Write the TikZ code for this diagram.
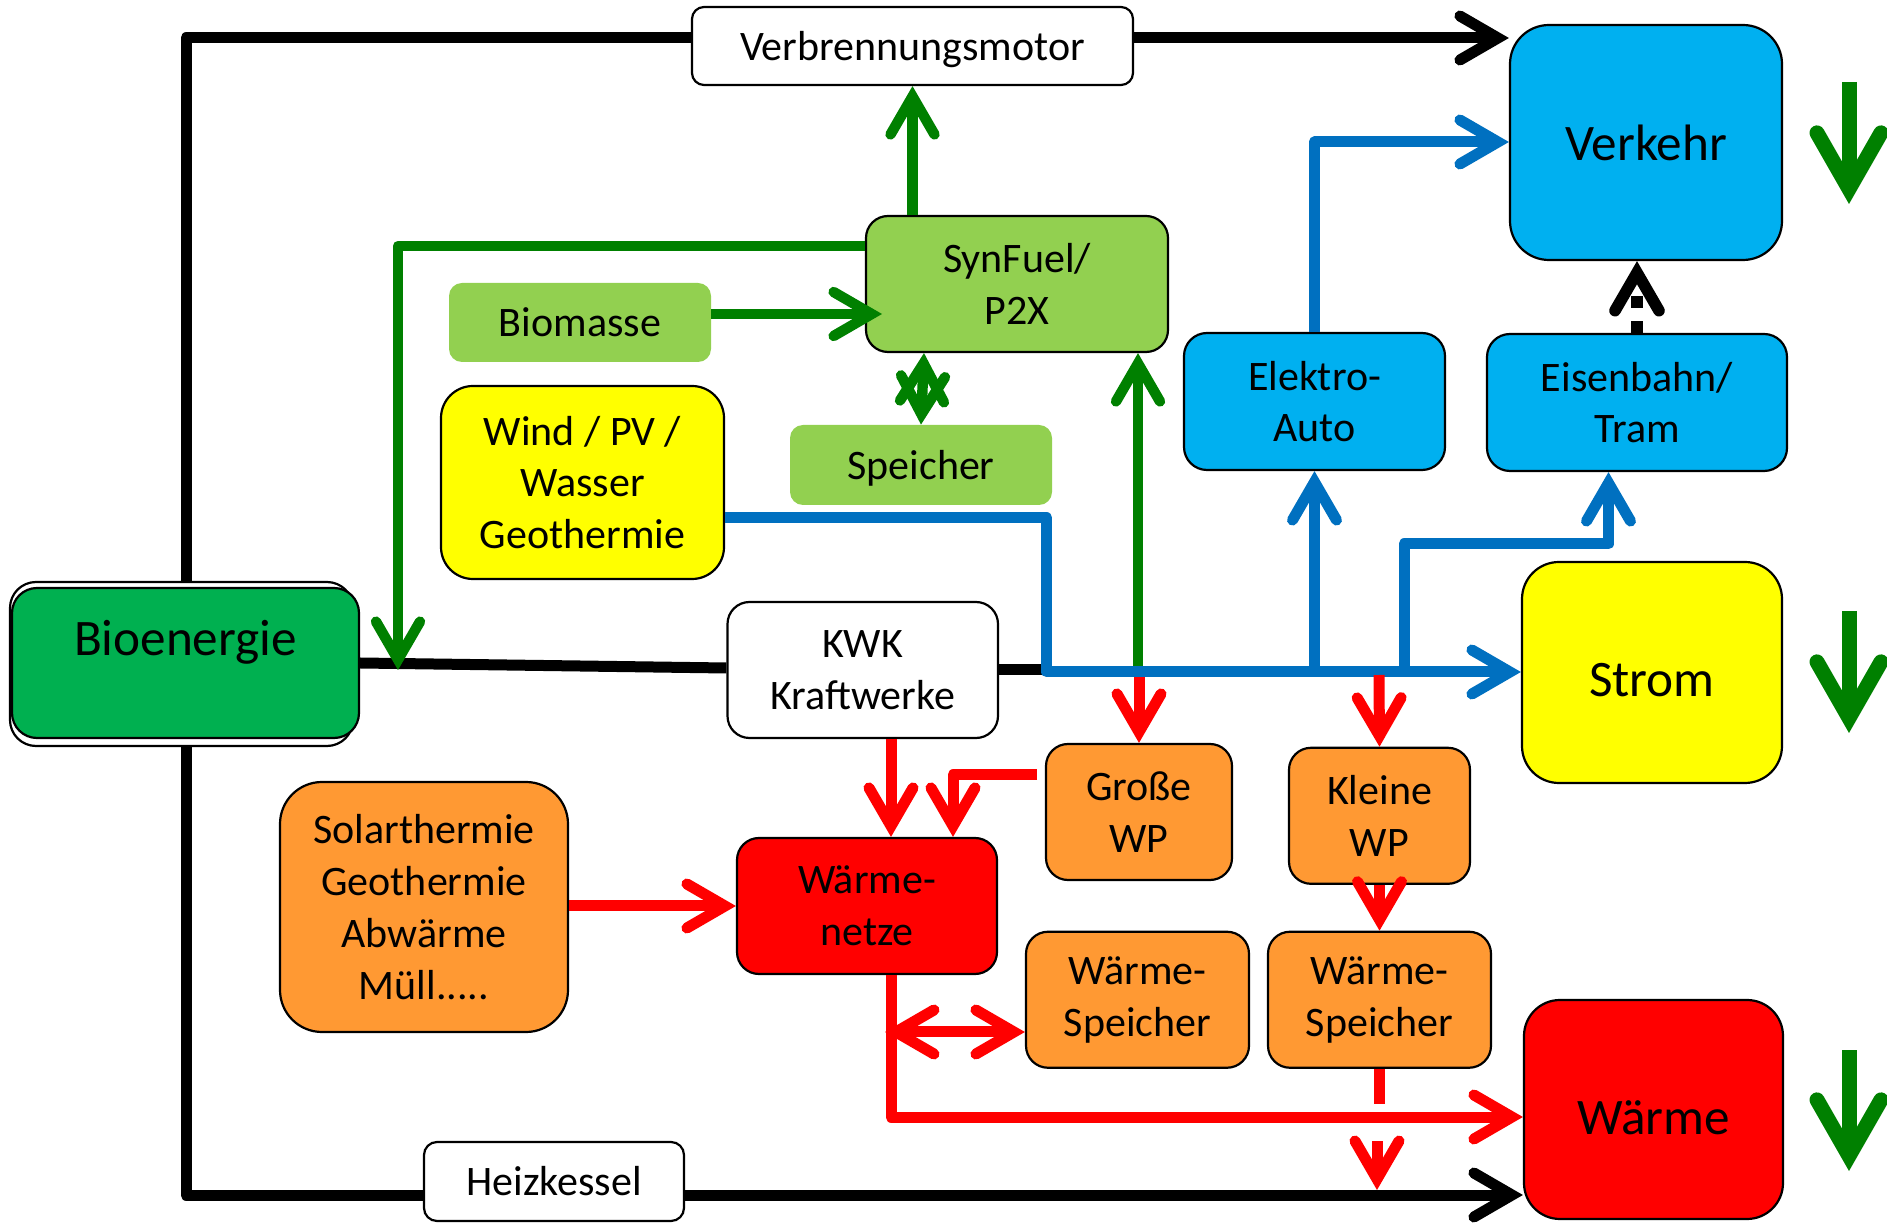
\documentclass[tikz,border=0pt]{standalone}
\usepackage{fontspec}
\setmainfont{Carlito}
\usetikzlibrary{arrows.meta}
\definecolor{lgreen}{HTML}{92D050}
\definecolor{dgreen}{HTML}{008000}
\definecolor{biogreen}{HTML}{00B050}
\definecolor{lblue}{HTML}{00B0F0}
\definecolor{blueline}{HTML}{0070C0}
\definecolor{orangebox}{HTML}{FF9933}
\definecolor{redbox}{HTML}{FF0000}
\definecolor{yel}{HTML}{FFFF00}
\newcommand\mynormal{\fontsize{21}{25.9}\selectfont}
\newcommand\mybig{\fontsize{25.6}{30}\selectfont}
\pgfdeclarelayer{bg}
\pgfsetlayers{bg,main}
\begin{document}
\begin{tikzpicture}[x=0.5pt,y=-0.5pt,
  every node/.style={font=\mynormal},
  box/.style={draw=black,line width=1.1pt,align=center,inner sep=0pt},
  nobox/.style={align=center,inner sep=0pt},
  bigtext/.style={font=\mybig,inner sep=0pt},
  blk/.style={line width=5.5pt,black,line join=round},
  blu/.style={line width=5.5pt,blueline,line join=round},
  grn/.style={line width=5.2pt,dgreen,line join=round},
  rd/.style={line width=5.5pt,redbox,line join=round},
  arr/.style={-{Straight Barb[length=19pt,width=22pt,line cap=round,line join=miter]}},
  dbl/.style={{Straight Barb[length=19pt,width=22pt,line cap=round,line join=miter]}-{Straight Barb[length=19pt,width=22pt,line cap=round,line join=miter]}},
  bigarr/.style={line width=7.5pt,dgreen,-{Straight Barb[length=28pt,width=32pt,line cap=round,line join=miter]}},
]
\useasboundingbox (0,0) rectangle (1887,1224);

% nodes
\node[box,fill=white,rounded corners=6pt,minimum width=220.5pt,minimum height=39pt,text depth=0pt] (verb) at (912.5,46) {Verbrennungsmotor};
\node[box,fill=lblue,rounded corners=19.5pt,minimum width=136pt,minimum height=117.5pt,font=\mybig] (verkehr) at (1646,142.5) {Verkehr};
\node[box,fill=lgreen,rounded corners=11pt,minimum width=151pt,minimum height=68pt] (syn) at (1017,284) {SynFuel/\\P2X};
\node[nobox,fill=lgreen,rounded corners=6.5pt,minimum width=131pt,minimum height=39.5pt] (biomasse) at (580,322.5) {Biomasse};
\node[box,fill=yel,rounded corners=16pt,minimum width=141.5pt,minimum height=96.5pt] (wind) at (582.5,482.5) {Wind / PV /\\Wasser\\Geothermie};
\node[nobox,fill=lgreen,rounded corners=6.5pt,minimum width=131pt,minimum height=40pt,text depth=0pt] (speicher) at (921,465) {Speicher};
\node[box,fill=lblue,rounded corners=11.5pt,minimum width=130.5pt,minimum height=68.5pt] (elektro) at (1314.5,401.5) {Elektro-\\Auto};
\node[box,fill=lblue,rounded corners=11.5pt,minimum width=150pt,minimum height=68.5pt] (eisen) at (1637,402.5) {Eisenbahn/\\Tram};
\node[box,fill=yel,rounded corners=18.5pt,minimum width=130pt,minimum height=110.5pt] (strom) at (1652,672.5) {};
\node[bigtext] (stromT) at (1652,680) {Strom};
\node[box,fill=redbox,rounded corners=18pt,minimum width=129.5pt,minimum height=109.5pt] (waerme) at (1653.5,1109.5) {};
\node[bigtext] (waermeT) at (1653.5,1118) {Wärme};
\node[box,fill=white,rounded corners=13pt,minimum width=171.5pt,minimum height=82pt] (bioback) at (181.5,664) {};
\node[box,fill=biogreen,rounded corners=12.5pt,minimum width=173.5pt,minimum height=75pt] (bio) at (185.5,663) {};
\node[bigtext] (bioT) at (185.5,642) {Bioenergie};
\node[box,fill=white,rounded corners=11pt,minimum width=135.25pt,minimum height=68pt] (kwk) at (862.75,670) {KWK\\Kraftwerke};
\node[box,fill=orangebox,rounded corners=21pt,minimum width=144pt,minimum height=125pt] (solar) at (424,907) {Solarthermie\\Geothermie\\Abwärme\\Müll.....};
\node[box,fill=redbox,rounded corners=11pt,minimum width=130pt,minimum height=68pt] (netze) at (867,906) {Wärme-\\netze};
\node[box,fill=orangebox,rounded corners=11pt,minimum width=93pt,minimum height=68pt] (grosse) at (1139,812) {Große\\WP};
\node[box,fill=orangebox,rounded corners=11pt,minimum width=90.5pt,minimum height=68pt] (kleine) at (1379.5,815.8) {Kleine\\WP};
\node[box,fill=orangebox,rounded corners=11pt,minimum width=111.5pt,minimum height=68pt] (ws1) at (1137.5,999.75) {Wärme-\\Speicher};
\node[box,fill=orangebox,rounded corners=11pt,minimum width=111.5pt,minimum height=68pt] (ws2) at (1379.5,999.75) {Wärme-\\Speicher};
\node[box,fill=white,rounded corners=6.5pt,minimum width=130pt,minimum height=39.5pt] (heiz) at (554,1181.5) {Heizkessel};

% coordinates
\coordinate (tl) at (186,38);
\coordinate (bl) at (186,1195);
\coordinate (bj) at (1046.7,670);
\coordinate (bj2) at (1046.7,672);
\coordinate (eaj) at (1314.5,672);
\coordinate (ebj) at (1404,672);
\coordinate (ebk) at (1608.5,544);
\coordinate (gj) at (1138,666);
\coordinate (rj1) at (1139,677);
\coordinate (rj2) at (1379,675);
\coordinate (gwp) at (1037,775);
\coordinate (bioarr) at (398,670);
\coordinate (wsl) at (885,1032);
\coordinate (wsd1) at (1377,1141);
\coordinate (wsd2) at (1377,1190);
\coordinate (ga1) at (1849,82);  \coordinate (gb1) at (1849,204);
\coordinate (ga2) at (1849,611); \coordinate (gb2) at (1849,733);
\coordinate (ga3) at (1849,1050);\coordinate (gb3) at (1849,1171);

\begin{pgfonlayer}{bg}
\draw[blk] ([xshift=2.25pt]bioback.north) |- (verb.west |- tl);
\draw[blk,arr] (verb.east |- tl) -- (verkehr.west |- tl);
\draw[blk,arr] ([xshift=2.25pt]bioback.south) |- (waerme.west |- bl);
\draw[blk] (bio.east) -- (kwk.west |- 0,668);
\draw[blk] (kwk.east) -- (bj);
\end{pgfonlayer}

% blue
\draw[blu,arr] (wind.east |- 0,518) -| (bj2) -- (strom.west |- bj2);
\draw[blu,arr] (eaj) -- (elektro.south);
\draw[blu,arr] (ebj) |- (ebk) -- (eisen.south -| ebk);
\draw[blu,arr] (elektro.north) |- (verkehr.west |- 0,142);
% dashed black
\draw[black,line width=5.8pt,dash pattern=on 6pt off 6.5pt,arr] (eisen.north) -- (verkehr.south -| eisen.north);

% green
\draw[grn,arr] (syn.north -| verb.south) -- (verb.south);
\draw[grn,arr] (syn.west |- 0,246) -| (bioarr);
\draw[grn,arr] (biomasse.east |- 0,314) -- (882,314);
\draw[grn,dbl] (syn.south -| 924,0) -- (speicher.north -| 921,0);
\draw[grn,arr] (gj) -- (syn.south -| gj);

% red
\draw[rd,arr] (rj1) -- (grosse.north);
\draw[rd,arr] (rj2) -- (kleine.north);
\draw[rd,arr] (kwk.south -| 891,0) -- (netze.north -| 891,0);
\draw[rd,arr] (gwp) -| (netze.north -| 953,0);
\draw[rd,arr] (solar.east |- 0,906) -- (netze.west |- 0,906);
\draw[rd,arr] (netze.south -| 891,0) |- (waerme.west |- 0,1117);
\draw[rd,dbl] (wsl) -- (ws1.west |- wsl);
\draw[rd,arr] (kleine.south) -- (ws2.north);
\draw[rd] (ws2.south) -- ++(0,35);
\draw[rd,arr] (wsd1) -- (wsd2);

% big green arrows
\draw[bigarr] (ga1) -- (gb1);
\draw[bigarr] (ga2) -- (gb2);
\draw[bigarr] (ga3) -- (gb3);
\end{tikzpicture}
\end{document}
